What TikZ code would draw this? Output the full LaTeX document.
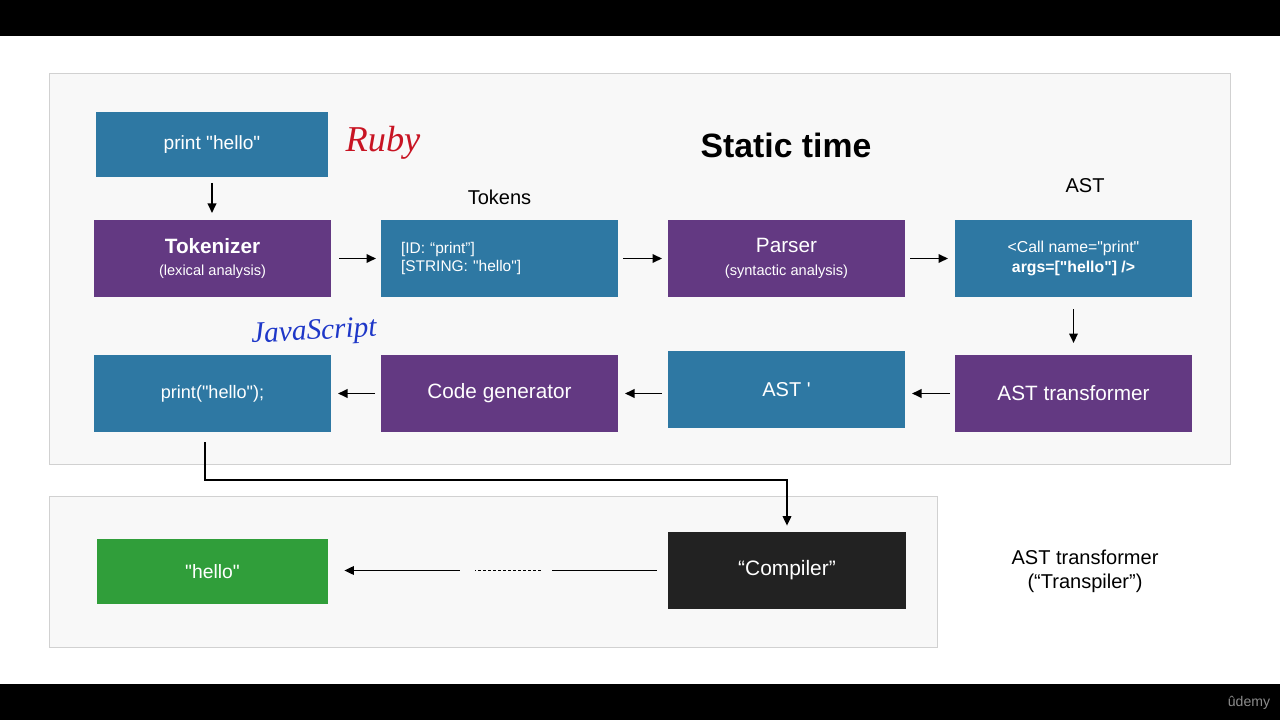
\documentclass[tikz,border=0pt]{standalone}
\usepackage{fontspec}
\setmainfont{Liberation Sans}[Ligatures=TeXOff]
\newfontfamily\handfont{Liberation Serif}
\usetikzlibrary{positioning, arrows.meta}

\definecolor{dataBlue}{RGB}{46,120,163}
\definecolor{stagePurple}{RGB}{99,57,130}
\definecolor{resultGreen}{RGB}{48,158,58}
\definecolor{compilerBlack}{RGB}{34,34,34}
\definecolor{panelFill}{RGB}{248,248,248}
\definecolor{inkRed}{RGB}{200,20,35}
\definecolor{inkBlue}{RGB}{30,55,200}

\tikzset{
    stagebox/.style={draw=none, fill=stagePurple, text=white, minimum width=47.4mm, minimum height=15.4mm, inner sep=0pt, outer sep=0pt, align=center, font=\fontsize{11.8}{14}\selectfont},
    databox/.style={draw=none, fill=dataBlue, text=white, minimum width=47.4mm, minimum height=15.4mm, inner sep=0pt, outer sep=0pt, align=center, font=\fontsize{9}{11}\selectfont},
    flow/.style={line width=0.36mm, -{Triangle[length=1.9mm, width=1.7mm]}},
    panel/.style={fill=panelFill, draw=black!18, line width=0.2mm},
    headtext/.style={inner sep=0pt, outer sep=0pt, font=\fontsize{11.4}{13.5}\selectfont}
}

\begin{document}
\begin{tikzpicture}[x=0.2mm, y=-0.2mm]
        \useasboundingbox (0,0) rectangle (1280,720);

        %%% Screen frame
            % Black bars on top and bottom
            \fill[black] (0,0) rectangle (1280,36);
            \fill[black] (0,684) rectangle (1280,720);
            \node[inner sep=0pt, text=black!45, font=\fontsize{8}{9}\selectfont] (udemyMark) at (1249,703) {ûdemy};

            % Light panels behind the two parts
            \draw[panel] (49,74) rectangle (1230,464);
            \draw[panel] (49,496) rectangle (937,647);

        %%% Static time part
            % Title
            \node[inner sep=0pt, font=\bfseries\fontsize{19.2}{22}\selectfont] (staticTitle) at (786,145) {Static time};

            % Source program
            \node[databox, minimum width=46.4mm, minimum height=13mm, font=\fontsize{10.9}{13}\selectfont] (rubySrc) at (212,144.5) {print "hello"};
            \node[inner sep=0pt, text=inkRed, font=\handfont\itshape\fontsize{20.7}{24}\selectfont] (rubyNote) at (383,143) {Ruby};

            % First row, left to right
            \node[stagebox] (tokenizer) at (212.5,258.5) {{\bfseries Tokenizer}\\[-1pt]{\fontsize{8.3}{10}\selectfont (lexical analysis)}};
            \node[databox, right=10mm of tokenizer, text width=39.4mm, align=left, font=\fontsize{8.8}{10.5}\selectfont] (tokens) {[ID: “print”]\\{}[STRING: "hello"]};
            \node[stagebox, right=10mm of tokens] (parser) {Parser\\[-1pt]{\fontsize{8.3}{10}\selectfont (syntactic analysis)}};
            \node[databox, right=10mm of parser] (ast) {<Call name="print"\\\bfseries args=["hello"] />};

            % Labels above the data
            \node[headtext, above=3mm of tokens] (tokensLbl) {Tokens};
            \node[headtext, above=5.4mm of ast, xshift=2.3mm] (astLbl) {AST};

            % Second row, right to left
            \node[stagebox, below=11.6mm of ast] (transformer) {AST transformer};
            \node[databox, below=10.8mm of parser, font=\fontsize{11.4}{13.5}\selectfont] (astPrime) {AST '};
            \node[stagebox, below=11.6mm of tokens] (codegen) {Code generator};
            \node[databox, below=11.6mm of tokenizer, font=\fontsize{10.3}{12}\selectfont] (jsOut) {print("hello");};
            \node[inner sep=0pt, text=inkBlue, rotate=3, font=\handfont\itshape\fontsize{16.7}{20}\selectfont] (jsNote) at (314,333) {JavaScript};

            % Connectors of the pipeline
            \draw[flow, shorten <=1.2mm, shorten >=1.4mm] (rubySrc.south) -- (rubySrc.south |- tokenizer.north);
            \draw[flow, shorten <=1.6mm, shorten >=1mm] (tokenizer) -- (tokens);
            \draw[flow, shorten <=1mm, shorten >=1.2mm] (tokens) -- (parser);
            \draw[flow, shorten <=1mm, shorten >=1.4mm] (parser) -- (ast);
            \draw[flow, shorten <=2.4mm, shorten >=2.4mm] (ast.south) -- (transformer.north);
            \draw[flow, shorten <=1mm, shorten >=1.4mm] (transformer.west) -- (transformer.west -| astPrime.east);
            \draw[flow, shorten <=1.2mm, shorten >=1.4mm] (astPrime.west |- codegen.east) -- (codegen.east);
            \draw[flow, shorten <=1.2mm, shorten >=1.4mm] (codegen) -- (jsOut);

        %%% Run time part
            \node[draw=none, fill=compilerBlack, text=white, minimum width=47.6mm, minimum height=15.4mm, inner sep=0pt, font=\fontsize{11.9}{14}\selectfont] (compiler) at (787,570.5) {“Compiler”};
            \node[draw=none, fill=resultGreen, text=white, minimum width=46.2mm, minimum height=13mm, inner sep=0pt, font=\fontsize{11}{13}\selectfont] (helloOut) at (212.5,571.5) {"hello"};

            % Output program goes to the compiler
            \draw[flow] ([xshift=-1.5mm, yshift=-2mm]jsOut.south) -- ++(0,38) -| ([yshift=1.2mm]compiler.north);

            % Broken arrow from the compiler to the result
            \draw[line width=0.36mm] ([xshift=-2.2mm]compiler.west) -- ++(-105,0) coordinate (gapRight);
            \draw[line width=0.36mm, dash pattern=on 0.5mm off 0.5mm] ([xshift=-2.2mm]gapRight) -- ++(-66,0) coordinate (gapLeft);
            \draw[flow] ([xshift=-3mm]gapLeft) -- ([xshift=3.2mm]gapLeft -| helloOut.east);

            % Side note
            \node[headtext, align=center] (transpilerNote) at (1085,571) {AST transformer\\(“Transpiler”)};
\end{tikzpicture}
\end{document}
